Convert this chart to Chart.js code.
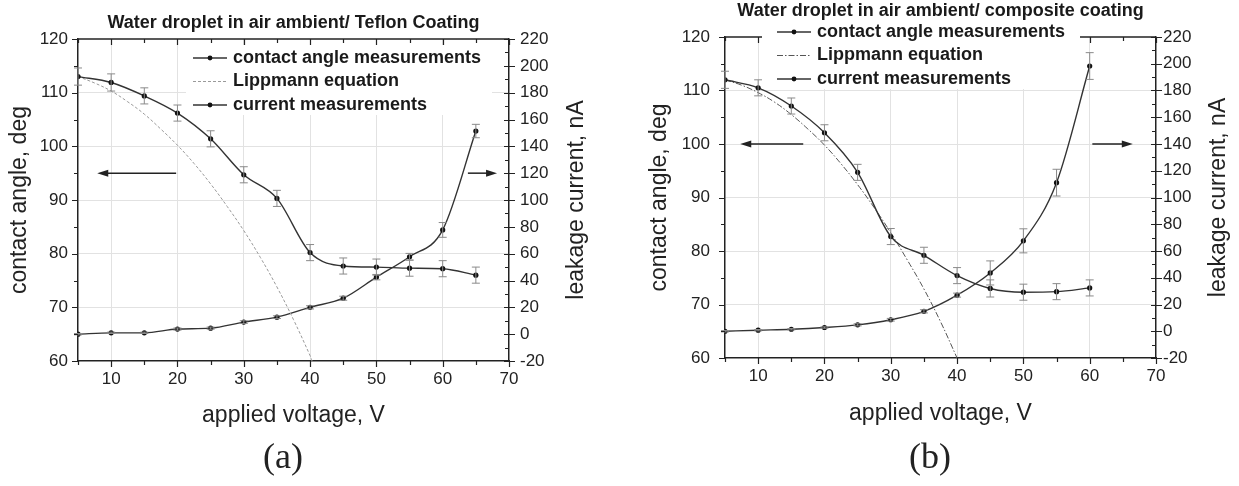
<!DOCTYPE html>
<html><head><meta charset="utf-8">
<script src="https://cdn.jsdelivr.net/npm/chart.js@4.4.1/dist/chart.umd.min.js"></script>
<style>
html,body{margin:0;padding:0;background:#fff;width:1239px;height:486px;overflow:hidden;}
.wrap{position:absolute;top:0;height:486px;}
.panel{position:absolute;top:436px;font-family:"Liberation Serif","Times New Roman",serif;font-size:36px;line-height:40px;color:#222;transform:translateX(-50%);white-space:nowrap;}
</style></head><body>
<div class="wrap" style="left:0;width:620px"><canvas id="ca" width="620" height="486"></canvas></div>
<div class="wrap" style="left:620px;width:619px"><canvas id="cb" width="619" height="486"></canvas></div>
<div class="panel" style="left:283px">(a)</div>
<div class="panel" style="left:930px">(b)</div>
<script>
// ---------- DATA : panel (a) Teflon coating ----------
const titleA = 'Water droplet in air ambient/ Teflon Coating';
const voltageA = [5, 10, 15, 20, 25, 30, 35, 40, 45, 50, 55, 60, 65];
const angleA = [113.0, 111.9, 109.4, 106.2, 101.4, 94.7, 90.3, 80.2, 77.7, 77.5, 77.3, 77.2, 76.0];
const angleErrA = [1.6, 1.6, 1.5, 1.5, 1.5, 1.5, 1.5, 1.5, 1.5, 1.5, 1.5, 1.5, 1.5];
const currentA = [0, 1, 1, 3.8, 4.5, 9, 12.7, 20, 26.8, 42.5, 57.7, 77.7, 151.4];
const currentErrA = [0.5, 0.5, 0.5, 0.8, 0.8, 1, 1, 1.2, 1.5, 2, 2.5, 5.5, 5];
const lippVoltA = [5, 7.5, 10, 12.5, 15, 17.5, 20, 22.5, 25, 27.5, 30, 32.5, 35, 37.5, 40, 40.3];
const lippAngleA = [113, 111.8, 110.3, 108.3, 106, 103.2, 100.2, 96.8, 93, 88.8, 84.3, 79.3, 73.8, 67.7, 61, 60];
const arrowsA = [
  {axis: 'y', x0: 19.8, x1: 7.9, v: 95},
  {axis: 'y1', x0: 63.8, x1: 68.2, v: 120}
];

// ---------- DATA : panel (b) composite coating ----------
const titleB = 'Water droplet in air ambient/ composite coating';
const voltageB = [5, 10, 15, 20, 25, 30, 35, 40, 45, 50, 55, 60];
const angleB = [112.0, 110.5, 107.1, 102.1, 94.7, 82.7, 79.2, 75.4, 73.0, 72.3, 72.4, 73.1];
const angleErrB = [1.6, 1.5, 1.5, 1.5, 1.5, 1.5, 1.5, 1.5, 1.6, 1.5, 1.5, 1.5];
const currentB = [0, 0.8, 1.5, 2.8, 4.8, 8.6, 14.9, 27, 43.6, 67.6, 111.1, 198.3];
const currentErrB = [0.5, 0.5, 0.5, 0.5, 0.8, 1, 1.2, 1.5, 9, 9, 10, 10];
const lippVoltB = [5, 7.5, 10, 12.5, 15, 17.5, 20, 22.5, 25, 27.5, 30, 32.5, 35, 37.5, 40];
const lippAngleB = [112, 111, 109.6, 107.8, 105.5, 102.8, 99.8, 96.3, 92.4, 88.1, 83.4, 78.3, 72.9, 66.8, 60];
const arrowsB = [
  {axis: 'y', x0: 16.8, x1: 7.3, v: 100},
  {axis: 'y1', x0: 60.4, x1: 66.5, v: 140}
];

// ---------- shared labels / ticks ----------
const legendLabels = ['contact angle measurements', 'Lippmann equation', 'current measurements'];
const xTitle = 'applied voltage, V';
const yTitle = 'contact angle, deg';
const y1Title = 'leakage current, nA';
const xRange = [5, 70], yRange = [60, 120], y1Range = [-20, 220];

// ---------- helpers ----------
const FONT = '"Liberation Sans", Arial, Helvetica, sans-serif';
Chart.defaults.font.family = FONT;
Chart.defaults.color = '#222';
const pts = (xs, ys) => xs.map((x, i) => ({x: x, y: ys[i]}));

const errorBars = {
  id: 'errorBars',
  afterDatasetsDraw(chart) {
    const ctx = chart.ctx;
    ctx.save();
    ctx.strokeStyle = '#8a8a8a';
    ctx.lineWidth = 1;
    chart.data.datasets.forEach(ds => {
      if (!ds.errors) return;
      const xs = chart.scales.x, ys = chart.scales[ds.yAxisID];
      ds.data.forEach((p, i) => {
        const e = ds.errors[i];
        const px = xs.getPixelForValue(p.x);
        const yt = ys.getPixelForValue(p.y + e), yb = ys.getPixelForValue(p.y - e);
        ctx.beginPath();
        ctx.moveTo(px, yt); ctx.lineTo(px, yb);
        ctx.moveTo(px - 4, yt); ctx.lineTo(px + 4, yt);
        ctx.moveTo(px - 4, yb); ctx.lineTo(px + 4, yb);
        ctx.stroke();
      });
    });
    ctx.restore();
  }
};

const frameTicks = {
  id: 'frameTicks',
  afterDraw(chart, args, o) {
    const ctx = chart.ctx, a = chart.chartArea;
    const x = chart.scales.x, y = chart.scales.y, y1 = chart.scales.y1;
    ctx.save();
    ctx.strokeStyle = '#222';
    ctx.lineWidth = 1.5;
    ctx.beginPath();
    ctx.moveTo(a.left, a.top); ctx.lineTo(a.right, a.top);
    ctx.stroke();
    ctx.lineWidth = 1.2;
    ctx.beginPath();
    for (let v = xRange[0]; v <= xRange[1]; v += 5) {
      const px = Math.round(x.getPixelForValue(v)) + 0.5;
      const major = v % 10 === 0;
      ctx.moveTo(px, a.bottom); ctx.lineTo(px, a.bottom + (major ? 6 : 4));
      ctx.moveTo(px, a.top); ctx.lineTo(px, a.top + (major ? 6 : 4));
    }
    for (let v = yRange[0]; v <= yRange[1]; v += 5) {
      const py = Math.round(y.getPixelForValue(v)) + 0.5;
      const major = v % 10 === 0;
      ctx.moveTo(a.left - (major ? 6 : 4), py); ctx.lineTo(a.left, py);
    }
    for (let v = y1Range[0]; v <= y1Range[1]; v += 10) {
      const py = Math.round(y1.getPixelForValue(v)) + 0.5;
      const major = v % 20 === 0;
      if (major) { ctx.moveTo(a.right - 5, py); ctx.lineTo(a.right + 6, py); }
      else { ctx.moveTo(a.right - 4, py); ctx.lineTo(a.right, py); }
    }
    ctx.stroke();
    // right axis title, read bottom-to-top like the reference
    ctx.translate(o.rightTitleX, (a.top + a.bottom) / 2);
    ctx.rotate(-Math.PI / 2);
    ctx.font = '23px ' + FONT;
    ctx.fillStyle = '#222';
    ctx.textAlign = 'center';
    ctx.textBaseline = 'middle';
    ctx.fillText(y1Title, 0, 0);
    ctx.restore();
  }
};

const arrowsPlugin = {
  id: 'arrowsPlugin',
  afterDraw(chart, args, o) {
    const ctx = chart.ctx;
    ctx.save();
    ctx.strokeStyle = '#222'; ctx.fillStyle = '#222'; ctx.lineWidth = 1.5;
    (o.items || []).forEach(ar => {
      const sx = chart.scales.x, sy = chart.scales[ar.axis];
      const x0 = sx.getPixelForValue(ar.x0), x1 = sx.getPixelForValue(ar.x1);
      const py = sy.getPixelForValue(ar.v);
      const dir = x1 > x0 ? 1 : -1;
      ctx.beginPath(); ctx.moveTo(x0, py); ctx.lineTo(x1 - dir * 8, py); ctx.stroke();
      ctx.beginPath();
      ctx.moveTo(x1, py); ctx.lineTo(x1 - dir * 11, py - 3.5); ctx.lineTo(x1 - dir * 11, py + 3.5);
      ctx.closePath(); ctx.fill();
    });
    ctx.restore();
  }
};

const legendPlugin = {
  id: 'cLegend',
  afterDraw(chart, args, o) {
    const ctx = chart.ctx;
    ctx.save();
    if (o.bg) { ctx.fillStyle = '#fff'; ctx.fillRect(o.bg[0], o.bg[1], o.bg[2], o.bg[3]); }
    ctx.font = 'bold 18px ' + FONT;
    ctx.textBaseline = 'middle';
    ctx.textAlign = 'left';
    chart.data.datasets.forEach((ds, i) => {
      const yy = o.y + i * o.rowH;
      ctx.strokeStyle = ds.borderColor; ctx.lineWidth = ds.borderWidth;
      ctx.setLineDash(ds.borderDash || []);
      ctx.beginPath(); ctx.moveTo(o.x, yy); ctx.lineTo(o.x + o.len, yy); ctx.stroke();
      ctx.setLineDash([]);
      if (ds.pointRadius > 0) {
        ctx.fillStyle = '#111';
        ctx.beginPath(); ctx.arc(o.x + o.len / 2, yy, 2.4, 0, Math.PI * 2); ctx.fill();
      }
      ctx.fillStyle = '#1a1a1a';
      ctx.fillText(ds.label, o.x + o.len + o.gap, yy);
    });
    ctx.restore();
  }
};

function build(id, p) {
  const lineDs = (label, data, axis, extra) => Object.assign({
    label: label, data: data, yAxisID: axis, borderColor: '#333', borderWidth: 1.4,
    pointRadius: 2.6, pointBackgroundColor: '#111', pointBorderWidth: 0,
    cubicInterpolationMode: 'monotone', fill: false
  }, extra || {});
  return new Chart(document.getElementById(id), {
    type: 'line',
    data: {
      datasets: [
        lineDs(legendLabels[0], pts(p.volt, p.angle), 'y', {errors: p.angleErr}),
        lineDs(legendLabels[1], pts(p.lippV, p.lippA), 'y', {
          borderColor: p.lippColor, borderWidth: 1, borderDash: p.lippDash, pointRadius: 0,
          cubicInterpolationMode: 'default', tension: 0.4}),
        lineDs(legendLabels[2], pts(p.volt, p.current), 'y1', {errors: p.currentErr})
      ]
    },
    options: {
      responsive: false, animation: false, devicePixelRatio: 1,
      layout: {padding: 0},
      plugins: {
        legend: {display: false}, tooltip: {enabled: false},
        title: {display: true, text: p.title, fullSize: false, color: '#1a1a1a',
          font: {size: 18, weight: 'bold'}, padding: p.titlePad},
        cLegend: p.legend,
        arrowsPlugin: {items: p.arrows},
        frameTicks: {rightTitleX: p.rightTitleX}
      },
      scales: {
        x: {
          type: 'linear', min: xRange[0], max: xRange[1],
          afterFit: s => { s.height = p.xH; },
          ticks: {stepSize: 5, autoSkip: false, maxRotation: 0, padding: 8,
            font: {size: 17}, color: '#222',
            callback: v => (v % 10 === 0 ? String(v) : '')},
          grid: {drawTicks: false, lineWidth: 1,
            color: c => (c.tick && c.tick.value % 10 === 0 && c.tick.value > 5 && c.tick.value < 70) ? '#e2e2e2' : 'rgba(0,0,0,0)'},
          border: {color: '#222', width: 1.5},
          title: {display: true, text: xTitle, font: {size: 23}, color: '#222', padding: {top: 0, bottom: p.xTitlePad}}
        },
        y: {
          type: 'linear', position: 'left', min: yRange[0], max: yRange[1],
          afterFit: s => { s.width = p.yW; },
          ticks: {stepSize: 10, padding: p.yPad, font: {size: 17}, color: '#222'},
          grid: {drawTicks: false, lineWidth: 1,
            color: c => (c.tick && c.tick.value > 60 && c.tick.value < 120) ? '#e2e2e2' : 'rgba(0,0,0,0)'},
          border: {color: '#222', width: 1.5},
          title: {display: true, text: yTitle, font: {size: 23}, color: '#222', padding: {top: p.yTitlePad, bottom: 0}}
        },
        y1: {
          type: 'linear', position: 'right', min: y1Range[0], max: y1Range[1],
          afterFit: s => { s.width = p.y1W; },
          ticks: {stepSize: 20, padding: p.y1Pad, font: {size: 17}, color: '#222'},
          grid: {display: false, drawTicks: false},
          border: {color: '#222', width: 1.5},
          title: {display: false, text: y1Title}
        }
      }
    },
    plugins: [errorBars, frameTicks, arrowsPlugin, legendPlugin]
  });
}

build('ca', {
  title: titleA, volt: voltageA, angle: angleA, angleErr: angleErrA, current: currentA, currentErr: currentErrA,
  lippV: lippVoltA, lippA: lippAngleA, lippColor: '#9a9a9a', lippDash: [3, 2], arrows: arrowsA,
  titlePad: {top: 12, bottom: 5.4}, xH: 125, xTitlePad: 57, yW: 78, yPad: 10, yTitlePad: 6, y1W: 111, y1Pad: 11,
  rightTitleX: 577,
  legend: {x: 193, y: 58, rowH: 23.5, len: 34, gap: 6, bg: [186, 45, 306, 70]}
});
build('cb', {
  title: titleB, volt: voltageB, angle: angleB, angleErr: angleErrB, current: currentB, currentErr: currentErrB,
  lippV: lippVoltB, lippA: lippAngleB, lippColor: '#555', lippDash: [6, 2, 1.5, 2], arrows: arrowsB,
  titlePad: {top: 0.5, bottom: 14.9}, xH: 128, xTitlePad: 59, yW: 105, yPad: 15, yTitlePad: 26, y1W: 83, y1Pad: 7,
  rightTitleX: 599,
  legend: {x: 157, y: 32, rowH: 23.5, len: 34, gap: 6, bg: [142, 22, 318, 67]}
});
</script>
</body></html>
